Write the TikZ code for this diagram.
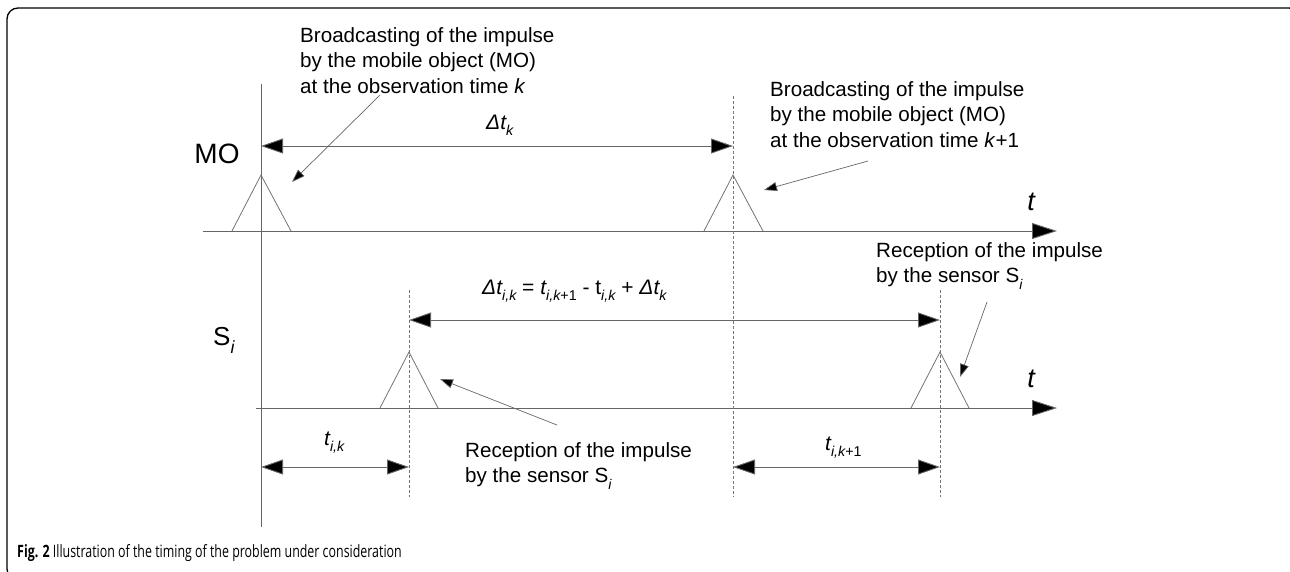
\documentclass[tikz,border=0pt]{standalone}
\usepackage{fontspec}
\usepackage{graphicx}
\setmainfont{Liberation Sans}
\newfontfamily\capfont[FakeStretch=0.73]{Open Sans}
\usetikzlibrary{arrows.meta}
\newcommand\lowsub[1]{\raisebox{-0.32em}{\scalebox{0.68}{#1}}}
\tikzset{
  axisline/.style={draw=black!60, line width=0.9pt, -{Triangle[length=25pt,width=16pt,fill=black]}},
  vline/.style={draw=black!60, line width=0.9pt},
  dashline/.style={draw=black!55, line width=0.8pt, dash pattern=on 3pt off 2pt},
  pulse/.style={draw=black!55, line width=0.8pt},
  dimarrow/.style={draw=black!60, line width=0.9pt, {Triangle[length=22pt,width=15pt,fill=black]}-{Triangle[length=22pt,width=15pt,fill=black]}},
  callout/.style={draw=black!60, line width=0.7pt, -{Triangle[length=13pt,width=9pt,fill=black]}},
  note/.style={inner sep=0pt, anchor=north west, align=left, font=\fontsize{20.6}{25.5}\selectfont},
  lbl/.style={inner sep=0pt, anchor=base, font=\fontsize{21}{24}\selectfont},
  tlbl/.style={inner sep=0pt, anchor=base, font=\fontsize{27}{30}\selectfont\itshape},
  frame/.style={draw=black, line width=1.3pt, rounded corners=11pt},
}
\begin{document}
\begin{tikzpicture}[x=1pt,y=-1pt]
\useasboundingbox (0,0) rectangle (1290,571);
% frame
\draw[frame] (1300,40) -- (1300,8) -- (7,8) -- (7,580) -- (40,580);
% coordinates
\coordinate (v0t) at (261,84);   \coordinate (v0b) at (261,527);
\coordinate (moS) at (203,231);  \coordinate (moE) at (1057,231);
\coordinate (siS) at (256,408);  \coordinate (siE) at (1057,408);
\coordinate (d1t) at (733,96);   \coordinate (d1b) at (733,497);
\coordinate (d2t) at (409,290);  \coordinate (d2b) at (409,497);
\coordinate (d3t) at (940,290);  \coordinate (d3b) at (940,497);
% axes
\draw[vline] (v0t) -- (v0b);
\draw[axisline] (moS) -- (moE);
\draw[axisline] (siS) -- (siE);
\draw[dashline] (d1t) -- (d1b);
\draw[dashline] (d2t) -- (d2b);
\draw[dashline] (d3t) -- (d3b);
% pulses
\draw[pulse] (232,231) -- (261,175) -- (291,231);
\draw[pulse] (704,231) -- (733,175) -- (763,231);
\draw[pulse] (380,408) -- (409,352) -- (438,408);
\draw[pulse] (911,408) -- (940,352) -- (969,408);
% dimension arrows
\coordinate (a1) at (261,146); \coordinate (a2) at (733,146);
\coordinate (b1) at (409,320); \coordinate (b2) at (940,320);
\coordinate (c1) at (261,467); \coordinate (c2) at (409,467);
\coordinate (e1) at (733,467); \coordinate (e2) at (940,467);
\draw[dimarrow] (a1) -- (a2);
\draw[dimarrow] (b1) -- (b2);
\draw[dimarrow] (c1) -- (c2);
\draw[dimarrow] (e1) -- (e2);
% labels
\node[lbl, font=\fontsize{28}{30}\selectfont] (mo) at (217,163) {MO};
\node[lbl, font=\fontsize{26}{28}\selectfont, anchor=base west] (si) at (213,345) {S\lowsub{\itshape i}};
\node[lbl, anchor=base west] (dtk) at (486,129) {\itshape Δt\lowsub{k}};
\node[lbl, anchor=base west] (dtik) at (482,294) {\itshape Δt\lowsub{i,k}\upshape{} = \itshape t\lowsub{i,k\upshape+1}\upshape{} - t\lowsub{\itshape i,k}\upshape{} + \itshape Δt\lowsub{k}};
\node[lbl, anchor=base west] (tik) at (324,445) {\itshape t\lowsub{i,k}};
\node[lbl, anchor=base west] (tik1) at (825,450) {\itshape t\lowsub{i,k\upshape+1}};
\node[tlbl] (tmo) at (1031,210) {t};
\node[tlbl] (tsi) at (1031,387) {t};
% notes
\node[note] (n1) at (300,27) {Broadcasting of the impulse\\by the mobile object (MO)\\at the observation time \textit{k}};
\node[note] (n2) at (770,81) {Broadcasting of the impulse\\by the mobile object (MO)\\at the observation time \textit{k}+1};
\node[note] (n3) at (876,242) {Reception of the impulse\\by the sensor S\lowsub{\itshape i}};
\node[note] (n4) at (465,442) {Reception of the impulse\\by the sensor S\lowsub{\itshape i}};
% callout arrows
\coordinate (p1s) at (380,95);  \coordinate (p1e) at (292,182);
\coordinate (p2s) at (868,161); \coordinate (p2e) at (764,190);
\coordinate (p3s) at (987,302); \coordinate (p3e) at (960,377);
\coordinate (p4s) at (557,425); \coordinate (p4e) at (440,379);
\draw[callout] (p1s) -- (p1e);
\draw[callout] (p2s) -- (p2e);
\draw[callout] (p3s) -- (p3e);
\draw[callout] (p4s) -- (p4e);
% caption
\node[inner sep=0pt, anchor=base west, font=\capfont\fontsize{17}{20}\selectfont] (cap) at (17,557) {\textbf{Fig. 2} Illustration of the timing of the problem under consideration};
\end{tikzpicture}
\end{document}
